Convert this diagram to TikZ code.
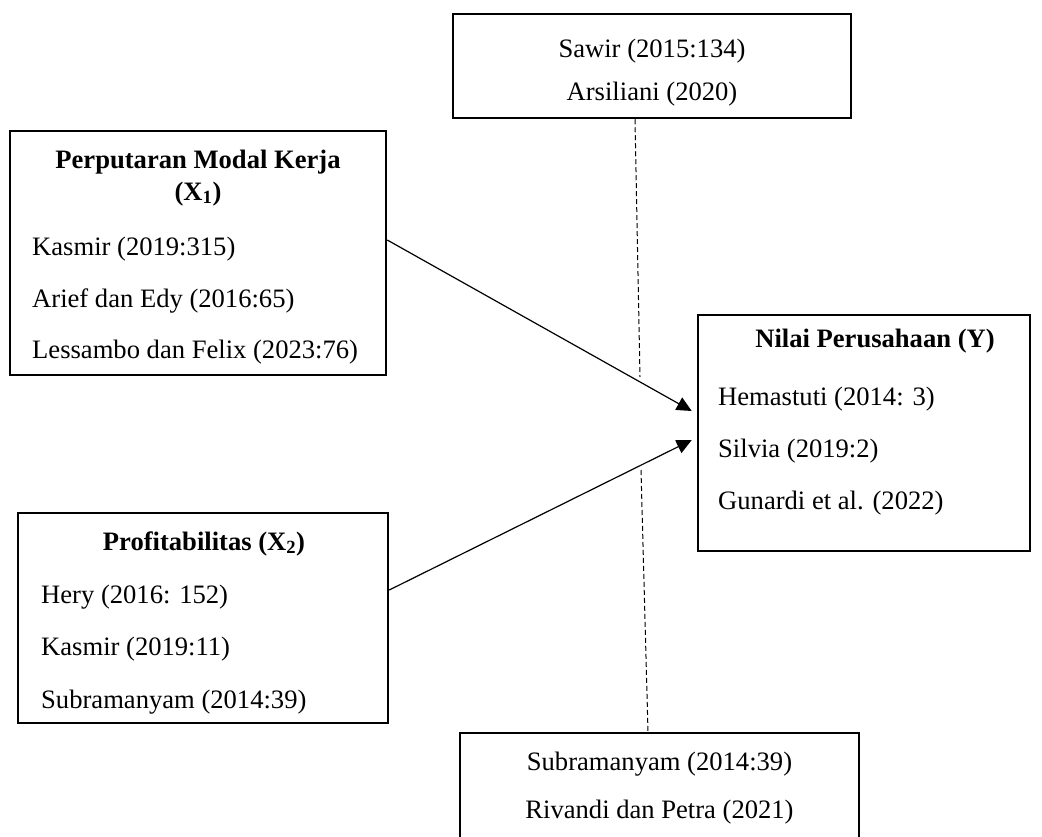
\documentclass[tikz,border=0pt]{standalone}
\usepackage{fontspec}
\setmainfont{Liberation Serif}
\usetikzlibrary{arrows.meta}
\begin{document}
\begin{tikzpicture}[x=1pt,y=-1pt,
  box/.style={draw=black,line width=2.5pt,rectangle,inner sep=0pt},
  txt/.style={inner sep=0pt,font=\fontsize{26.6}{32}\selectfont},
  conn/.style={line width=1.2pt,-{Triangle[length=15pt,width=14pt]}},
  dashline/.style={line width=1pt,dash pattern=on 5pt off 3pt}]
\useasboundingbox (0,0) rectangle (1042,836);
\clip (0,0) rectangle (1042,836);
% boxes
\node[box,minimum width=398pt,minimum height=104pt] (s) at (652,66) {};
\node[box,minimum width=376pt,minimum height=244pt] (x1) at (198,253) {};
\node[box,minimum width=332pt,minimum height=236pt] (y) at (864,433) {};
\node[box,minimum width=370pt,minimum height=210pt] (x2) at (203,618) {};
\node[box,minimum width=399pt,minimum height=137pt] (b) at (659.5,801.5) {};
% top box texts
\node[txt,anchor=base] (s1) at (652,57) {Sawir (2015:134)};
\node[txt,anchor=base] (s2) at (652,100) {Arsiliani (2020)};
% X1 texts
\node[txt,anchor=base] (x1t) at (198,168) {\textbf{Perputaran Modal Kerja}};
\node[txt,anchor=base] (x1u) at (198,200) {\textbf{(X\textsubscript{1})}};
\node[txt,anchor=base west] (x1a) at (32,255) {Kasmir (2019:315)};
\node[txt,anchor=base west] (x1b) at (32,307) {Arief dan Edy (2016:65)};
\node[txt,anchor=base west] (x1c) at (32,358) {Lessambo dan Felix (2023:76)};
% Y texts
\node[txt,anchor=base] (yt) at (875,347) {\textbf{Nilai Perusahaan (Y)}};
\node[txt,anchor=base west] (ya) at (718,405) {Hemastuti (2014: 3)};
\node[txt,anchor=base west] (yb) at (718,457) {Silvia (2019:2)};
\node[txt,anchor=base west] (yc) at (718,509) {Gunardi et al. (2022)};
% X2 texts
\node[txt,anchor=base] (x2t) at (204,550) {\textbf{Profitabilitas (X\textsubscript{2})}};
\node[txt,anchor=base west] (x2a) at (41,603) {Hery (2016: 152)};
\node[txt,anchor=base west] (x2b) at (41,655) {Kasmir (2019:11)};
\node[txt,anchor=base west] (x2c) at (41,708) {Subramanyam (2014:39)};
% bottom box texts
\node[txt,anchor=base] (b1) at (659.5,770) {Subramanyam (2014:39)};
\node[txt,anchor=base] (b2) at (659.5,818) {Rivandi dan Petra (2021)};
% dashed line
\coordinate (d1) at (640,377);
\coordinate (d2) at (641,470);
\draw[dashline] ([xshift=-17pt]s.south) -- (d1);
\draw[dashline] (d2) -- ([xshift=-11.5pt]b.north);
% arrows
\draw[conn] ([yshift=13pt]x1.east) -- ([xshift=-5pt,yshift=22pt]y.west);
\draw[conn] ([yshift=28pt]x2.east) -- ([xshift=-5pt,yshift=-7pt]y.west);
\end{tikzpicture}
\end{document}
